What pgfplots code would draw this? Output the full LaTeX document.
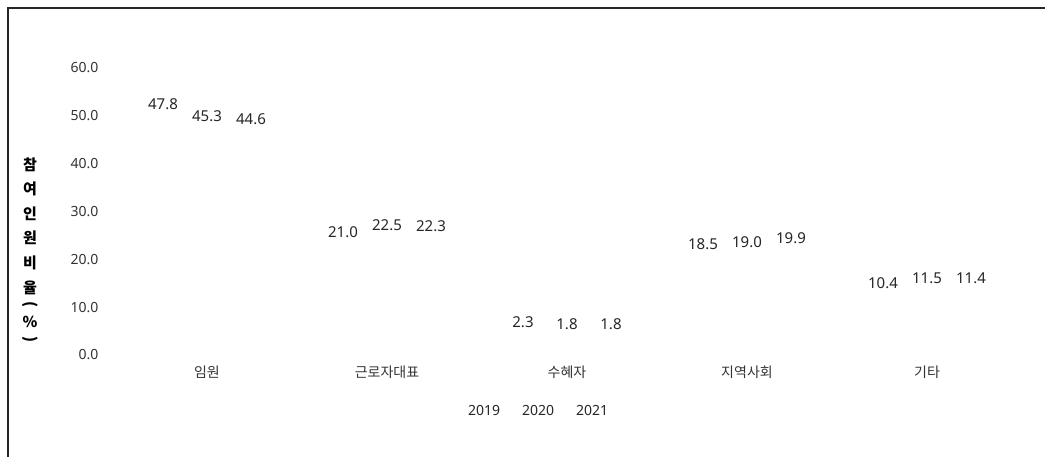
\documentclass[border=0pt]{standalone}
\usepackage{pgfplots}
\pgfplotsset{compat=1.18}
\usepackage{fontspec}
\setmainfont{Noto Sans}
\newfontfamily\kr{Noto Sans CJK KR}
\begin{document}
\begin{tikzpicture}
\useasboundingbox (0,0) rectangle (1045pt,457pt);
\draw[line width=1.5pt, black!85] (8pt,0) -- (8pt,449pt) -- (1045pt,449pt);
\begin{axis}[
  at={(117pt,102pt)}, anchor=south west,
  scale only axis, width=900pt, height=287pt,
  xmin=-0.5, xmax=4.5, ymin=0, ymax=60,
  clip=false,
  ybar=14pt, bar width=30pt,
  axis line style={draw=none}, major tick length=0pt,
  xtick={0,1,2,3,4},
  xticklabels={임원,근로자대표,수혜자,지역사회,기타},
  xticklabel style={font=\fontsize{14}{16}\selectfont\kr, text=black!80, yshift=-7pt},
  ytick={0,10,20,30,40,50,60},
  yticklabel style={font=\fontsize{14}{16}\selectfont, text=black!80, xshift=-15pt},
  y tick label style={/pgf/number format/.cd, fixed, fixed zerofill, precision=1, assume math mode=true},
  ylabel={참\\여\\인\\원\\비\\율\\[-16.5pt]\rotatebox{-90}{(}\\[2pt]\%\\[-16pt]\rotatebox{-90}{)}},
  every axis y label/.style={at={(rel axis cs:0,0.366)}, xshift=-87pt, anchor=center, align=center, font=\fontsize{15}{24.6}\selectfont\bfseries\kr},
  nodes near coords={\pgfmathprintnumber[fixed,fixed zerofill,precision=1,assume math mode=true]{\pgfplotspointmeta}},
  nodes near coords align={center},
  every node near coord/.append style={yshift=22pt, font=\fontsize{15}{17}\selectfont, text=black!85},
  legend image code/.code={},
  legend columns=3,
  legend style={draw=none, fill=none, at={(0.468,-0.195)}, anchor=center, font=\fontsize{14}{16}\selectfont, text=black!85, /tikz/every even column/.append style={column sep=18pt}},
]
\addplot[draw=none, fill=none] coordinates {(0,47.8) (1,21.0) (2,2.3) (3,18.5) (4,10.4)};
\addplot[draw=none, fill=none] coordinates {(0,45.3) (1,22.5) (2,1.8) (3,19.0) (4,11.5)};
\addplot[draw=none, fill=none] coordinates {(0,44.6) (1,22.3) (2,1.8) (3,19.9) (4,11.4)};
\legend{2019,2020,2021}
\end{axis}
\end{tikzpicture}
\end{document}
